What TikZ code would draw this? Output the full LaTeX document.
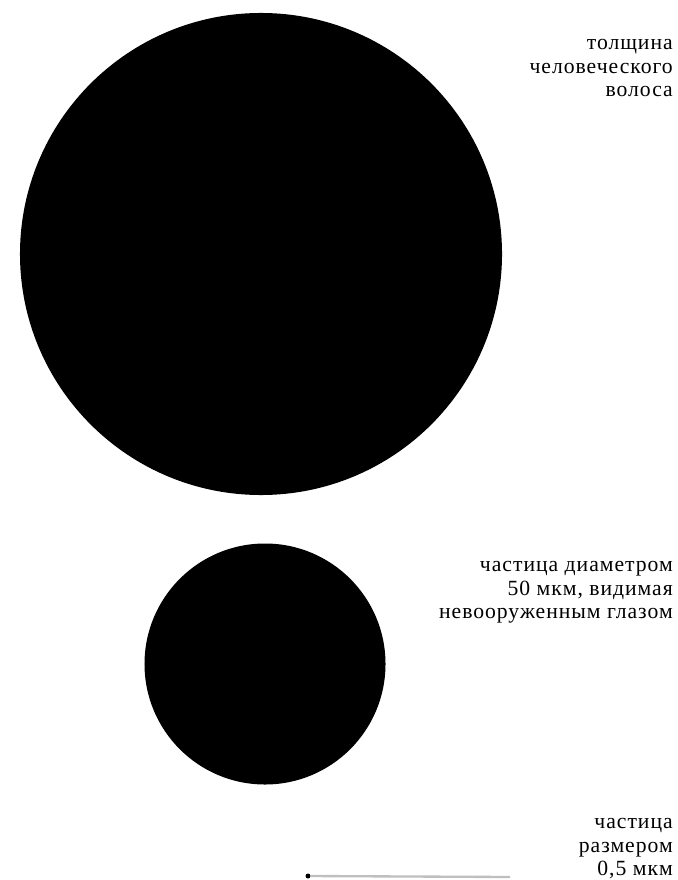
\documentclass[tikz,border=0pt]{standalone}
\usepackage{fontspec}
\setmainfont{Liberation Serif}
\newfontfamily\labelfont[LetterSpace=4.5]{Liberation Serif}
\usetikzlibrary{positioning}

\begin{document}
\begin{tikzpicture}[x=0.03cm,y=-0.03cm,
  disc/.style={circle,fill=black,inner sep=0pt},
  caption/.style={align=right,anchor=north east,inner sep=0pt,font=\labelfont\fontsize{18.5}{20.2}\selectfont}]
  \useasboundingbox (0,0) rectangle (677,880);
  \node[disc,minimum size=14.46cm] (hair) at (261,254) {};
  \node[caption] (hairtext) at (673,39) {толщина\\человеческого\\волоса};
  \node[disc,minimum size=7.23cm] (eye) at (265,664) {};
  \node[caption] (eyetext) at (673,561) {частица диаметром\\50 мкм, видимая\\невооруженным глазом};
  \node[disc,minimum size=0.15cm] (dust) at (308,876) {};
  \coordinate (barend) at (510,877);
  \draw[gray!50,line width=0.07cm] (dust) -- (barend);
  \node[caption] (dusttext) at (673,818) {частица\\размером\\0,5 мкм};
\end{tikzpicture}
\end{document}
